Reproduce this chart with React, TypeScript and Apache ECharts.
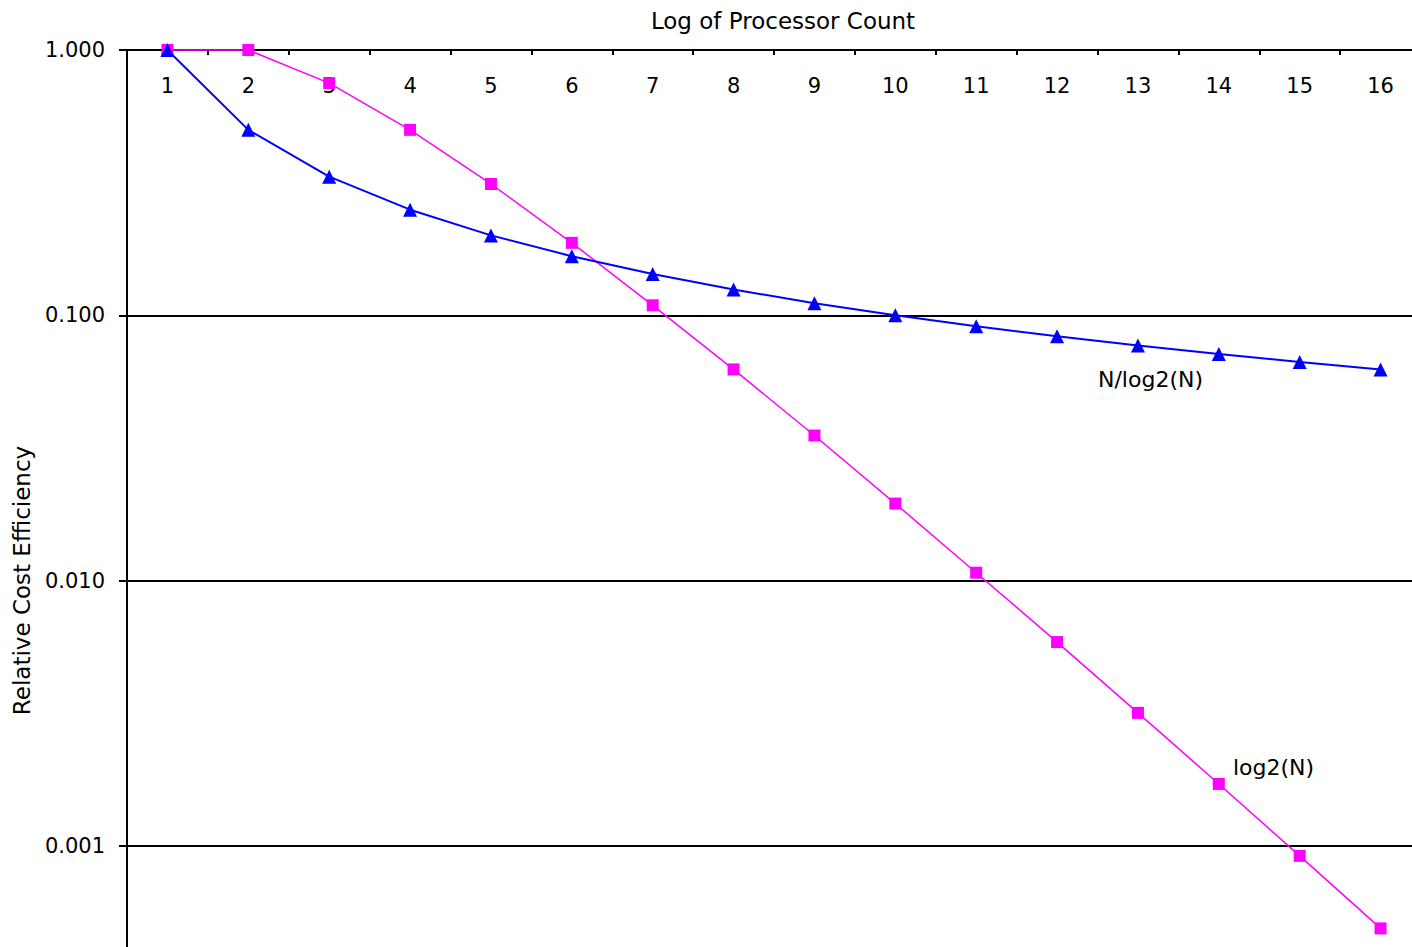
import React, { useEffect, useRef } from "react";
import * as echarts from "echarts";

const categories = ["1", "2", "3", "4", "5", "6", "7", "8", "9", "10", "11", "12", "13", "14", "15", "16"];
const log2Values = [1.0, 1.0, 0.75, 0.5, 0.3125, 0.1875, 0.109, 0.0625, 0.0352, 0.0195, 0.0107, 0.00586, 0.00317, 0.00171, 0.000916, 0.000488];
const nLog2Values = [1.0, 0.5, 0.333, 0.25, 0.2, 0.167, 0.143, 0.125, 0.111, 0.1, 0.0909, 0.0833, 0.0769, 0.0714, 0.0667, 0.0625];
const xTitle = "Log of Processor Count";
const yTitle = "Relative Cost Efficiency";
const blueLabel = "N/log2(N)";
const magentaLabel = "log2(N)";

const FONT = "'DejaVu Sans', sans-serif";

export default function App() {
  const ref = useRef<HTMLDivElement>(null);
  useEffect(() => {
    if (!ref.current) return;
    const chart = echarts.init(ref.current, undefined, { renderer: "svg" });
    chart.setOption({
      animation: false,
      backgroundColor: "#ffffff",
      grid: {
        left: 127,
        top: 50,
        right: -9,
        bottom: -164,
        containLabel: false,
        outerBoundsMode: "none",
      },
      xAxis: {
        type: "category",
        position: "top",
        data: categories,
        boundaryGap: true,
        axisLine: { show: true, lineStyle: { color: "#000", width: 2 } },
        axisTick: { show: true, inside: true, length: 5, lineStyle: { color: "#000", width: 2 } },
        axisLabel: { inside: true, margin: 25, color: "#000", fontSize: 21, fontFamily: FONT },
        splitLine: { show: false },
      },
      yAxis: {
        type: "log",
        logBase: 10,
        min: 0.0001,
        max: 1,
        name: yTitle,
        nameLocation: "middle",
        nameGap: 90,
        nameRotate: 90,
        nameTextStyle: { color: "#000", fontSize: 23, fontFamily: FONT },
        axisLine: { show: true, lineStyle: { color: "#000", width: 2 } },
        axisTick: { show: true, inside: false, length: 8, lineStyle: { color: "#000", width: 2 } },
        axisLabel: {
          margin: 22,
          color: "#000",
          fontSize: 21,
          fontFamily: FONT,
          formatter: (v: number) => (v < 0.001 ? "" : v.toFixed(3)),
        },
        splitLine: { show: true, lineStyle: { color: "#000", width: 2 } },
        minorTick: { show: false },
      },
      graphic: [
        {
          type: "text",
          x: 783,
          y: 21,
          style: { text: xTitle, fill: "#000", font: `23px ${FONT}`, align: "center", verticalAlign: "middle" },
        },
        {
          type: "text",
          x: 1098,
          y: 379,
          style: { text: blueLabel, fill: "#000", font: `22px ${FONT}`, align: "left", verticalAlign: "middle" },
        },
        {
          type: "text",
          x: 1233,
          y: 767,
          style: { text: magentaLabel, fill: "#000", font: `22px ${FONT}`, align: "left", verticalAlign: "middle" },
        },
      ],
      series: [
        {
          name: magentaLabel,
          type: "line",
          data: log2Values,
          symbol: "rect",
          symbolSize: 12,
          lineStyle: { color: "#ff00ff", width: 1.5 },
          itemStyle: { color: "#ff00ff" },
          clip: false,
        },
        {
          name: blueLabel,
          type: "line",
          data: nLog2Values,
          symbol: "triangle",
          symbolSize: 14,
          lineStyle: { color: "#0000ff", width: 2 },
          itemStyle: { color: "#0000ff" },
          clip: false,
        },
      ],
    });
    return () => chart.dispose();
  }, []);
  return (
    <div
      ref={ref}
      style={{ position: "fixed", left: 0, top: 0, width: 1412, height: 947, background: "#fff" }}
    />
  );
}
